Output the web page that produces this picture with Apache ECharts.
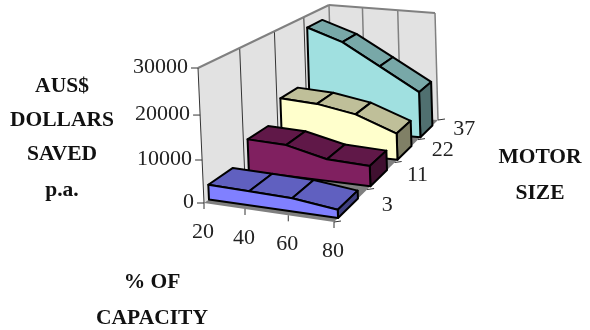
<!DOCTYPE html>
<html>
<head>
<meta charset="utf-8">
<style>html,body{margin:0;padding:0;background:#fff}#main{width:590px;height:330px}</style>
<script src="https://cdn.jsdelivr.net/npm/echarts@6/dist/echarts.min.js"></script>
</head>
<body>
<div id="main"></div>
<script>
var capacity = ['20', '40', '60', '80'];
var motorSizes = ['3', '11', '22', '37'];
var valueTicks = [0, 10000, 20000, 30000];
var motor3 = [3500, 3300, 3100, 1900];
var motor11 = [8000, 7700, 5400, 5000];
var motor22 = [13000, 12500, 10800, 6900];
var motor37 = [27000, 24000, 18500, 12500];
var valueMax = 30000;

// box corners of the 3d plot, front/back left/right bottom/top
var FLB = [204, 203], FLT = [198, 68], FRB = [334, 222], FRT = [329, 82];
var BLB = [332, 112], BLT = [329, 5], BRB = [438, 120], BRT = [435, 13];
var serif = '"Liberation Serif", serif';

var colors = [
    { front: '#8080ff', top: '#6060c0', side: '#404080' },
    { front: '#802060', top: '#601848', side: '#401030' },
    { front: '#ffffcc', top: '#bfbf99', side: '#808066' },
    { front: '#a0e0e0', top: '#78a8a8', side: '#507070' }
];

function persp(t, k) {
    return t / (1 + k * (1 - t));
}

function mix(a, b, t) {
    return [a[0] + (b[0] - a[0]) * t, a[1] + (b[1] - a[1]) * t];
}

// u: along capacity 0..1, d: along motor size 0..1, value in dollars
function project(u, d, value) {
    var uu = persp(u, 0.085);
    var dd = 1 - persp(1 - d, 0.4);
    var hh = persp(value / valueMax, 0.07);
    var bottom = mix(mix(FLB, FRB, uu), mix(BLB, BRB, uu), dd);
    var top = mix(mix(FLT, FRT, uu), mix(BLT, BRT, uu), dd);
    return mix(bottom, top, hh);
}

function polygon(api, pts, fill, stroke, width) {
    return {
        type: 'polygon',
        shape: { points: pts.map(function (p) { return api.coord(p); }) },
        style: { fill: fill, stroke: stroke, lineWidth: width, lineJoin: 'round' }
    };
}

function line(api, a, b, color, width) {
    var p = api.coord(a), q = api.coord(b);
    return {
        type: 'line',
        shape: { x1: p[0], y1: p[1], x2: q[0], y2: q[1] },
        style: { stroke: color, lineWidth: width }
    };
}

function label(api, p, str, align) {
    var c = api.coord(p);
    return {
        type: 'text',
        style: {
            x: c[0], y: c[1], text: str, fill: '#222',
            font: '22px ' + serif, textAlign: align || 'center', textVerticalAlign: 'middle'
        }
    };
}

function renderWalls(params, api) {
    var kids = [];
    var n = capacity.length - 1, m = motorSizes.length;
    kids.push(polygon(api, [project(0, 0, 0), project(0, 0, valueMax), project(0, 1, valueMax), project(0, 1, 0)], '#e2e2e2'));
    kids.push(polygon(api, [project(0, 1, 0), project(0, 1, valueMax), project(1, 1, valueMax), project(1, 1, 0)], '#e2e2e2'));
    kids.push(polygon(api, [project(0, 0, 0), project(1, 0, 0), project(1, 1, 0), project(0, 1, 0)], '#808080'));
    for (var i = 1; i < m; i++) {
        kids.push(line(api, project(0, i / m, 0), project(0, i / m, valueMax), '#333', 1));
    }
    for (i = 0; i <= n; i++) {
        kids.push(line(api, project(i / n, 1, 0), project(i / n, 1, valueMax), '#808080', 1.5));
    }
    kids.push(line(api, project(0, 0, valueMax), project(0, 1, valueMax), '#808080', 2));
    kids.push(line(api, project(0, 1, valueMax), project(1, 1, valueMax), '#808080', 2));
    kids.push(line(api, project(0, 0, 0), project(0, 0, valueMax), '#333', 1));

    // ticks and tick labels
    valueTicks.forEach(function (v) {
        var p = project(0, 0, v);
        kids.push(line(api, p, [p[0] - 7, p[1]], '#333', 1));
        kids.push(label(api, [p[0] - 10, p[1] - 1], String(v), 'right'));
    });
    capacity.forEach(function (c, j) {
        var p = project(j / n, 0, 0);
        kids.push(line(api, p, [p[0], p[1] + 6], '#333', 1));
        kids.push(label(api, [p[0] - 1, p[1] + 29], c));
    });
    for (i = 0; i <= m; i++) {
        var q = project(1, i / m, 0);
        kids.push(line(api, q, [q[0] + 7, q[1] - 1], '#333', 1));
    }
    motorSizes.forEach(function (s, j) {
        var q = project(1, (j + 0.5) / m, 0);
        kids.push(label(api, [q[0] + 36, q[1]], s));
    });
    return { type: 'group', children: kids };
}

function renderRibbon(params, api) {
    var idx = api.value(0);
    var m = motorSizes.length, n = capacity.length - 1;
    var d0 = idx / m + 0.028, d1 = d0 + 0.148;
    var vals = [api.value(1), api.value(2), api.value(3), api.value(4)];
    var col = colors[idx];
    var kids = [];
    var frontPts = [project(0, d0, 0)];
    var i;
    for (i = 0; i <= n; i++) {
        frontPts.push(project(i / n, d0, vals[i]));
    }
    frontPts.push(project(1, d0, 0));
    for (i = 0; i < n; i++) {
        kids.push(polygon(api, [
            project(i / n, d0, vals[i]), project(i / n, d1, vals[i]),
            project((i + 1) / n, d1, vals[i + 1]), project((i + 1) / n, d0, vals[i + 1])
        ], col.top, '#000', 2));
    }
    kids.push(polygon(api, [project(1, d0, 0), project(1, d0, vals[n]), project(1, d1, vals[n]), project(1, d1, 0)], col.side, '#000', 2));
    kids.push(polygon(api, frontPts, col.front, '#000', 2));
    return { type: 'group', children: kids };
}

function ribbon(idx, values) {
    return {
        type: 'custom',
        renderItem: renderRibbon,
        data: [[idx].concat(values)],
        coordinateSystem: 'cartesian2d',
        clip: false,
        silent: true,
        z: 10 + (3 - idx)
    };
}

function boldText(x, y, str) {
    return {
        type: 'text', x: x, y: y,
        style: { text: str, fill: '#111', font: 'bold 21.5px ' + serif, textAlign: 'center', textVerticalAlign: 'middle' }
    };
}

var chart = echarts.init(document.getElementById('main'));
chart.setOption({
    animation: false,
    grid: { left: 0, right: 0, top: 0, bottom: 0 },
    xAxis: { type: 'value', min: 0, max: 590, show: false },
    yAxis: { type: 'value', min: 0, max: 330, inverse: true, show: false },
    graphic: [
        boldText(62, 86, 'AUS$'), boldText(62, 120, 'DOLLARS'),
        boldText(62, 154, 'SAVED'), boldText(62, 190, 'p.a.'),
        boldText(540, 157, 'MOTOR'), boldText(540, 193, 'SIZE'),
        boldText(152, 282, '% OF'), boldText(152, 318, 'CAPACITY')
    ],
    series: [
        { type: 'custom', renderItem: renderWalls, data: [[0]], coordinateSystem: 'cartesian2d', clip: false, silent: true, z: 1 },
        ribbon(3, motor37),
        ribbon(2, motor22),
        ribbon(1, motor11),
        ribbon(0, motor3)
    ]
});
</script>
</body>
</html>
